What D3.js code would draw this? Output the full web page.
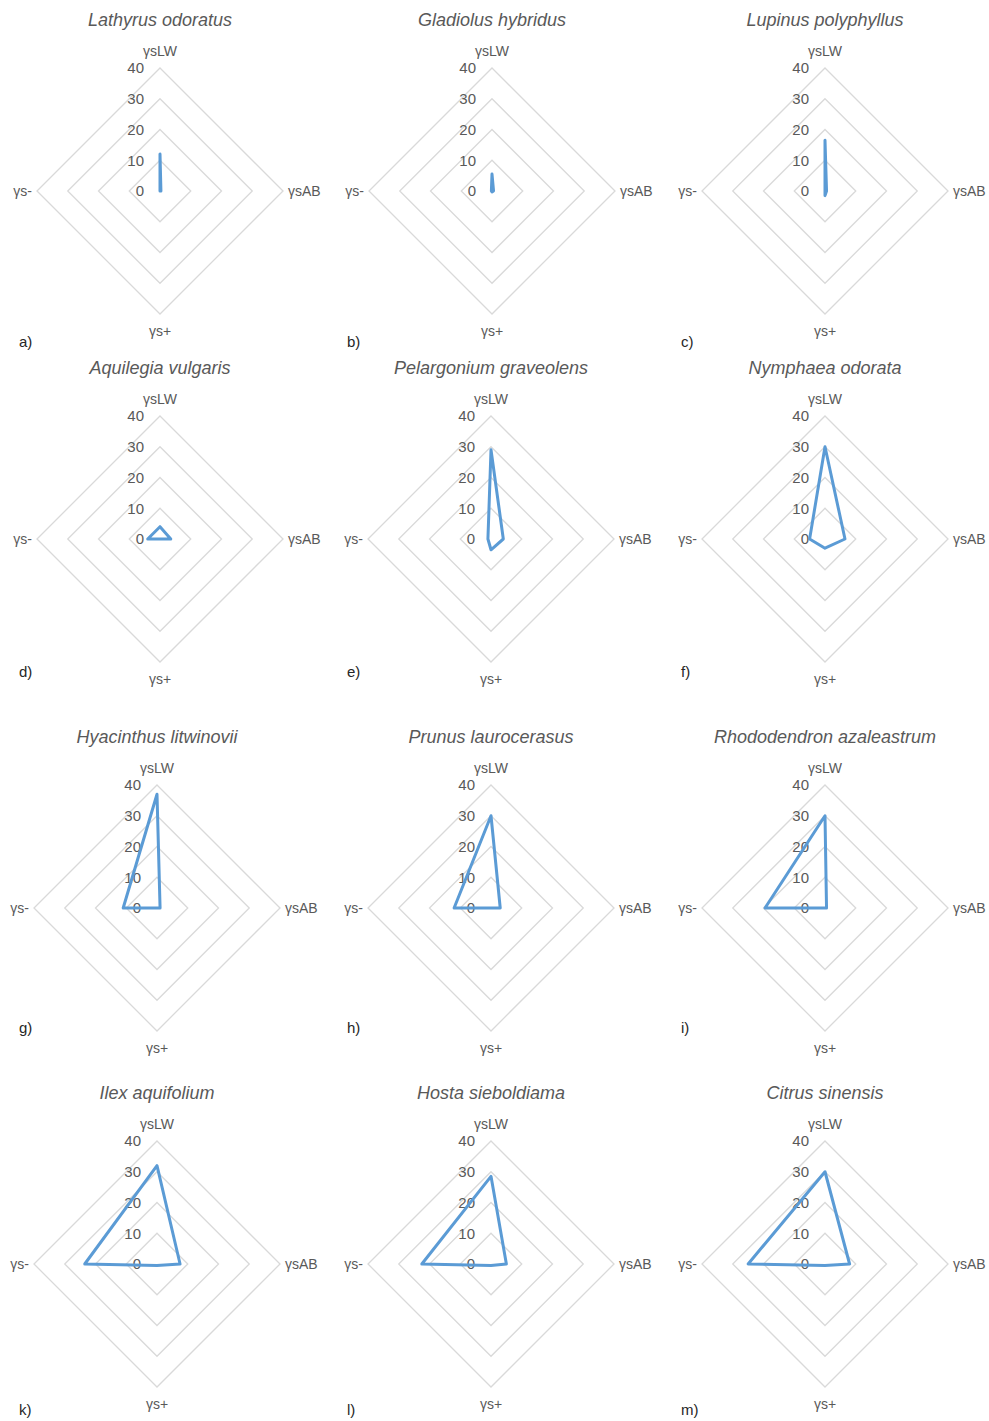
<!DOCTYPE html>
<html>
<head>
<meta charset="utf-8">
<script src="https://cdn.jsdelivr.net/npm/d3@7"></script>
<style>
  html, body { margin: 0; padding: 0; background: #ffffff; }
  svg { display: block; }
  text { font-family: "Liberation Sans", Arial, sans-serif; fill: #595959; }
</style>
</head>
<body>
<svg id="chart" width="989" height="1421"></svg>
<script>
// Radar axes (clockwise from the top)
const axisNames = ["γsLW", "γsAB", "γs+", "γs-"];

// One radar panel per species
const species = [
  "Lathyrus odoratus", "Gladiolus hybridus", "Lupinus polyphyllus",
  "Aquilegia vulgaris", "Pelargonium graveolens", "Nymphaea odorata",
  "Hyacinthus litwinovii", "Prunus laurocerasus", "Rhododendron azaleastrum",
  "Ilex aquifolium", "Hosta sieboldiama", "Citrus sinensis"
];
const panelTags = ["a)", "b)", "c)", "d)", "e)", "f)", "g)", "h)", "i)", "k)", "l)", "m)"];

// Surface free energy components
const gammaLW    = [12, 5.5, 16.5, 4, 29, 30, 37, 30, 30, 32, 28.5, 30];
const gammaAB    = [0.3, 0.5, 0.5, 3.5, 4, 6.5, 1, 3, 0.5, 7.5, 5, 8];
const gammaPlus  = [0, 0.3, 1.5, 0, 3.5, 3, 0, 0, 0, 0.5, 0.5, 0.5];
const gammaMinus = [0, 0.2, 0, 4, 1, 5, 11, 12, 19.5, 23.5, 22.5, 25];

// Radial tick labels
const radialTicks = [0, 10, 20, 30, 40];

// Layout
const colX = [[160, 492, 825], [160, 491, 825], [157, 491, 825], [157, 491, 825]];
const rowY = [191, 539, 908, 1264];
const tagX = [19, 347, 681];
const tagDy = [151, 133, 120, 146];
const R = 123;

const svg = d3.select("#chart");
const r = d3.scaleLinear().domain([0, 40]).range([0, R]);
const angle = d3.scalePoint().domain(axisNames).range([0, 2 * Math.PI * 3 / 4]);

const radial = d3.lineRadial()
  .angle(d => angle(d.axis))
  .radius(d => r(d.value))
  .curve(d3.curveLinearClosed);

species.forEach((name, i) => {
  const row = Math.floor(i / 3), col = i % 3;
  const cx = colX[row][col], cy = rowY[row];
  const g = svg.append("g").attr("transform", `translate(${cx},${cy})`);

  // grid diamonds
  g.selectAll("path.grid")
    .data(radialTicks.filter(t => t > 0))
    .join("path")
    .attr("class", "grid")
    .attr("d", t => radial(axisNames.map(a => ({ axis: a, value: t }))))
    .attr("fill", "none")
    .attr("stroke", "#d9d9d9")
    .attr("stroke-width", 1.3);

  // tick labels along the top axis
  g.selectAll("text.tick")
    .data(radialTicks)
    .join("text")
    .attr("class", "tick")
    .attr("x", -16)
    .attr("y", t => -r(t))
    .attr("dy", "0.36em")
    .attr("text-anchor", "end")
    .style("font-size", "15px")
    .text(d => d);

  // axis labels
  const lab = [
    { t: axisNames[0], x: 0, y: -140, anchor: "middle" },
    { t: axisNames[1], x: 128, y: 0, anchor: "start" },
    { t: axisNames[2], x: 0, y: 140, anchor: "middle" },
    { t: axisNames[3], x: -128, y: 0, anchor: "end" }
  ];
  g.selectAll("text.axis")
    .data(lab)
    .join("text")
    .attr("class", "axis")
    .attr("x", d => d.x)
    .attr("y", d => d.y)
    .attr("dy", "0.35em")
    .attr("text-anchor", d => d.anchor)
    .style("font-size", "14px")
    .text(d => d.t);

  // data polygon
  const values = [gammaLW[i], gammaAB[i], gammaPlus[i], gammaMinus[i]];
  g.append("path")
    .datum(axisNames.map((a, k) => ({ axis: a, value: values[k] })))
    .attr("d", radial)
    .attr("fill", "none")
    .attr("stroke", "#5b9bd5")
    .attr("stroke-width", 3)
    .attr("stroke-linejoin", "round")
    .attr("stroke-linecap", "round");

  // title
  g.append("text")
    .attr("x", 0)
    .attr("y", -171)
    .attr("dy", "0.35em")
    .attr("text-anchor", "middle")
    .style("font-size", "18px")
    .style("font-style", "italic")
    .text(name);

  // panel tag
  svg.append("text")
    .attr("x", tagX[col])
    .attr("y", cy + tagDy[row])
    .attr("dy", "0.35em")
    .style("font-size", "15px")
    .style("fill", "#262626")
    .text(panelTags[i]);
});
</script>
</body>
</html>
